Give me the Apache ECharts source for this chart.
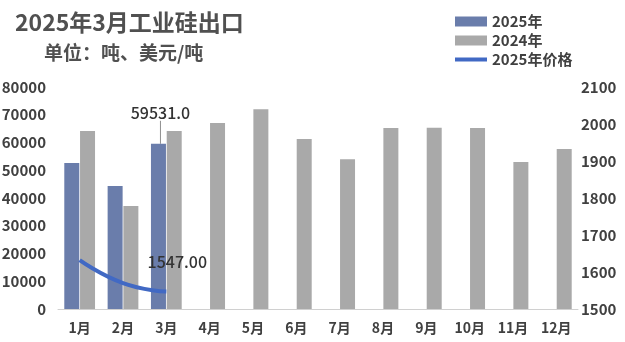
<!DOCTYPE html>
<html><head><meta charset="utf-8">
<script src="https://cdn.jsdelivr.net/npm/echarts@6/dist/echarts.min.js"></script>
<style>html,body{margin:0;padding:0;background:#fff}#c{width:625px;height:342px}</style>
</head><body><div id="c"></div>
<script>
const categories = ['1月','2月','3月','4月','5月','6月','7月','8月','9月','10月','11月','12月'];
const exports2025 = [52600, 44300, 59531, null, null, null, null, null, null, null, null, null];
const exports2024 = [64100, 37100, 64100, 67000, 72000, 61300, 54000, 65200, 65300, 65200, 53000, 57700];
const price2025 = [1632, 1570, 1547];
const leftTicks = {min: 0, max: 80000, interval: 10000};
const rightTicks = {min: 1500, max: 2100, interval: 100};

const FONT = '"Noto Sans CJK SC", "Noto Sans", sans-serif';
const chart = echarts.init(document.getElementById('c'));
chart.setOption({
  animation: false,
  textStyle: {fontFamily: FONT},
  title: [
    {text: '2025年3月工业硅出口', left: 10, top: 6, textStyle: {fontFamily: FONT, fontSize: 23, fontWeight: 'bold', color: '#505050'}},
    {text: '单位：吨、美元/吨', left: 39, top: 38, textStyle: {fontFamily: FONT, fontSize: 19, fontWeight: 'bold', color: '#505050'}}
  ],
  legend: {
    orient: 'vertical', left: 450, top: 9, itemWidth: 32, itemHeight: 10, itemGap: 4,
    textStyle: {fontFamily: FONT, fontSize: 15, fontWeight: 'bold', color: '#404040'},
    data: [{name: '2025年', icon: 'rect'}, {name: '2024年', icon: 'rect'},
           {name: '2025年价格', icon: 'path://M0,0 L32,0 L32,4 L0,4 Z', itemStyle: {color: '#4169c4'}}]
  },
  grid: {left: 58, right: 47, top: 87, bottom: 33, outerBoundsMode: 'none', containLabel: false},
  xAxis: {
    type: 'category', data: categories,
    axisLine: {lineStyle: {color: '#d0d0d0'}}, axisTick: {show: false},
    axisLabel: {fontFamily: FONT, fontSize: 14, fontWeight: 'bold', color: '#404040', margin: 12}
  },
  yAxis: [
    {type: 'value', min: leftTicks.min, max: leftTicks.max, interval: leftTicks.interval,
     splitLine: {show: false}, axisLine: {show: false}, axisTick: {show: false},
     axisLabel: {formatter: v => String(v), fontFamily: FONT, fontSize: 15, fontWeight: 'bold', color: '#404040', margin: 12}},
    {type: 'value', min: rightTicks.min, max: rightTicks.max, interval: rightTicks.interval,
     splitLine: {show: false}, axisLine: {show: false}, axisTick: {show: false},
     axisLabel: {formatter: v => String(v), fontFamily: FONT, fontSize: 15, fontWeight: 'bold', color: '#404040', margin: 3}}
  ],
  series: [
    {name: '2025年', type: 'bar', data: exports2025.map((v, i) => i === 2 ? {value: v, label: {show: true}, labelLine: {show: true}} : v),
     barWidth: 15, barGap: '5%', itemStyle: {color: '#6a7dab'},
     label: {show: false, position: 'top', formatter: p => p.value.toFixed(1), fontFamily: FONT, fontSize: 16, fontWeight: 500, color: '#333'},
     labelLayout: {dy: -18, dx: 2},
     labelLine: {show: true, lineStyle: {color: '#909090', width: 1}}},
    {name: '2024年', type: 'bar', data: exports2024, barWidth: 15, itemStyle: {color: '#a9a9a9'}},
    {name: '2025年价格', type: 'line', yAxisIndex: 1, data: price2025.map((v, i) => i === 2 ? {value: v, label: {show: true}} : v),
     smooth: true, symbol: 'circle', symbolSize: 0.1, showSymbol: true, lineStyle: {color: '#4169c4', width: 4}, itemStyle: {color: '#4169c4'},
     label: {show: false, position: 'top', formatter: p => p.value.toFixed(2), fontFamily: FONT, fontSize: 16, fontWeight: 500, color: '#333', offset: [11, -17]}}
  ]
});
</script></body></html>
